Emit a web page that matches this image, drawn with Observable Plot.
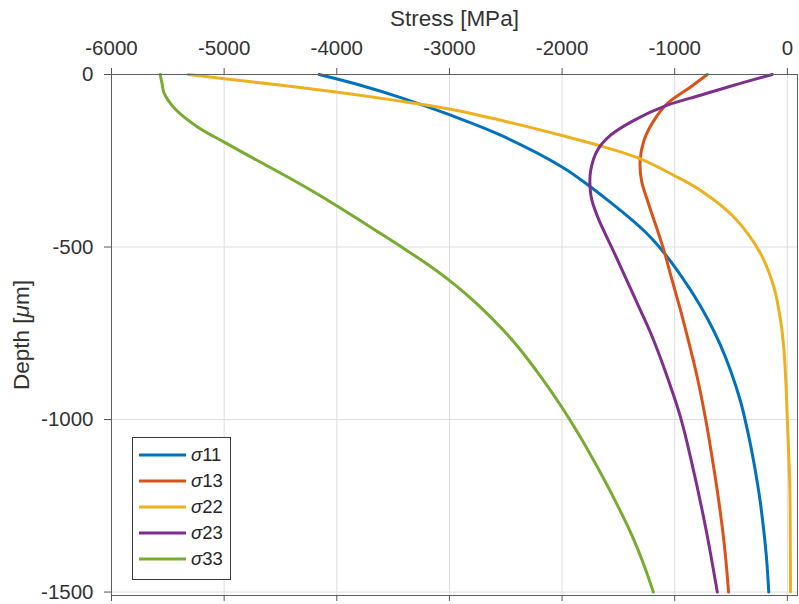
<!DOCTYPE html>
<html>
<head>
<meta charset="utf-8">
<script src="https://cdn.jsdelivr.net/npm/d3@7"></script>
<script src="https://cdn.jsdelivr.net/npm/@observablehq/plot@0.6"></script>
<style>
  html, body { margin: 0; padding: 0; background: #fff; }
  #wrap { position: relative; width: 799px; height: 604px; font-family: "Liberation Sans", Arial, sans-serif; }
  #legend { position: absolute; left: 132px; top: 437px; width: 97px; height: 137px; border: 1px solid #3a3a3a; background: #fff; box-sizing: content-box; padding-top: 4px; }
  .row { height: 26px; display: flex; align-items: center; }
  .row svg { margin-left: 6px; }
  .row span { margin-left: 5px; font-size: 18.5px; color: #262626; }
</style>
</head>
<body>
<div id="wrap"></div>
<script>
// ---- data (depth in µm, stress in MPa) ----
const seriesNames = ["σ11", "σ13", "σ22", "σ23", "σ33"];
const seriesColors = ["#0072BD", "#D95319", "#EDB120", "#7E2F8E", "#77AC30"];

const s11Depth = [0, -31, -67, -118, -176, -268, -326, -365, -423, -460, -491, -525, -560, -600, -637, -710, -782, -860, -947, -1030, -1102, -1180, -1245, -1390, -1500];
const s11Stress = [-4157, -3790, -3432, -2989, -2545, -2000, -1746, -1592, -1375, -1250, -1160, -1075, -995, -910, -835, -705, -597, -502, -416, -355, -310, -268, -238, -188, -165];

const s13Depth = [0, -36, -84, -133, -191, -249, -307, -365, -440, -511, -600, -685, -780, -879, -1000, -1102, -1200, -1312, -1400, -1500];
const s13Stress = [-711, -859, -1066, -1184, -1273, -1307, -1295, -1242, -1165, -1095, -1020, -947, -872, -799, -725, -672, -625, -578, -548, -522];

const s22Depth = [0, -12, -50, -75, -101, -137, -176, -205, -244, -292, -336, -413, -519, -616, -713, -800, -900, -1003, -1100, -1196, -1350, -1500];
const s22Stress = [-5319, -5000, -4024, -3480, -2990, -2490, -2010, -1680, -1310, -1010, -770, -475, -238, -120, -60, -30, -12, 0, 12, 22, 26, 28];

const s23Depth = [0, -31, -60, -89, -133, -176, -220, -278, -326, -365, -420, -511, -600, -685, -760, -850, -995, -1112, -1312, -1500];
const s23Stress = [-134, -475, -770, -1066, -1362, -1569, -1687, -1746, -1752, -1735, -1675, -1545, -1420, -1302, -1200, -1095, -947, -858, -726, -622];

const s33Depth = [0, -25, -55, -100, -152, -196, -250, -300, -345, -400, -455, -500, -550, -593, -640, -685, -740, -792, -880, -958, -1044, -1121, -1225, -1332, -1420, -1500];
const s33Stress = [-5568, -5552, -5532, -5435, -5236, -5000, -4700, -4420, -4180, -3905, -3640, -3425, -3195, -3015, -2840, -2690, -2525, -2385, -2180, -2015, -1850, -1715, -1545, -1385, -1275, -1190];

const xTicks = [-6000, -5000, -4000, -3000, -2000, -1000, 0];
const yTicks = [0, -500, -1000, -1500];
const xDomain = [-6000, 90];
const yDomain = [-1510, 0];
const xLabel = "Stress [MPa]";
const yLabel = "Depth [μm]";

// ---- build table ----
const depths = [s11Depth, s13Depth, s22Depth, s23Depth, s33Depth];
const stresses = [s11Stress, s13Stress, s22Stress, s23Stress, s33Stress];
const rows = [];
seriesNames.forEach((name, k) => {
  depths[k].forEach((d, i) => rows.push({series: name, depth: d, stress: stresses[k][i]}));
});

const fmt = d => String(d);
const font = '"Liberation Sans", Arial, sans-serif';
const chart = Plot.plot({
  width: 799,
  height: 604,
  marginTop: 74,
  marginLeft: 111,
  marginRight: 2,
  marginBottom: 9,
  style: {fontFamily: font, background: "#fff", color: "#333"},
  x: {domain: xDomain},
  y: {domain: yDomain},
  color: {domain: seriesNames, range: seriesColors},
  marks: [
    Plot.gridX(xTicks, {stroke: "#dedede", strokeOpacity: 1}),
    Plot.gridY(yTicks, {stroke: "#dedede", strokeOpacity: 1}),
    Plot.line(rows, {x: "stress", y: "depth", z: "series", stroke: "series", strokeWidth: 3, sort: null, curve: "catmull-rom"}),
    Plot.frame({stroke: "#5f5f5f"}),
    Plot.axisX(xTicks, {anchor: "top", tickSize: 7, tickPadding: 13, fontSize: 20.5, tickFormat: fmt,
      label: xLabel, labelArrow: "none", labelAnchor: "center", labelOffset: 64, stroke: "#555", fill: "#333"}),
    Plot.axisX(xTicks, {anchor: "bottom", tickSize: 6, tickFormat: () => "", label: null, stroke: "#555"}),
    Plot.axisY(yTicks, {anchor: "left", tickSize: 7, tickPadding: 11, fontSize: 20.5, tickFormat: fmt,
      label: yLabel, labelArrow: "none", labelAnchor: "center", labelOffset: 98, stroke: "#555", fill: "#333"})
  ]
});

// axis titles: strip any arrows, enlarge, italic mu
d3.select(chart).selectAll("text").each(function() {
  const t = this.textContent;
  if (t.startsWith("Stress") || t.startsWith("Depth")) {
    this.setAttribute("font-size", "22.5px");
    this.style.fontSize = "22.5px";
    const sel = d3.select(this);
    sel.text(null);
    if (t.startsWith("Stress")) {
      sel.text(xLabel);
    } else {
      sel.append("tspan").text("Depth [");
      sel.append("tspan").attr("font-style", "italic").text("μ");
      sel.append("tspan").text("m]");
    }
  }
});

const wrap = document.getElementById("wrap");
wrap.appendChild(chart);

// legend (inside plot, lower-left)
const legend = document.createElement("div");
legend.id = "legend";
seriesNames.forEach((name, k) => {
  const r = document.createElement("div");
  r.className = "row";
  r.innerHTML = `<svg width="47" height="6"><line x1="0" y1="3" x2="47" y2="3" stroke="${seriesColors[k]}" stroke-width="3"/></svg>` +
    `<span><i>${name.slice(0, 1)}</i>${name.slice(1)}</span>`;
  legend.appendChild(r);
});
wrap.appendChild(legend);
</script>
</body>
</html>
